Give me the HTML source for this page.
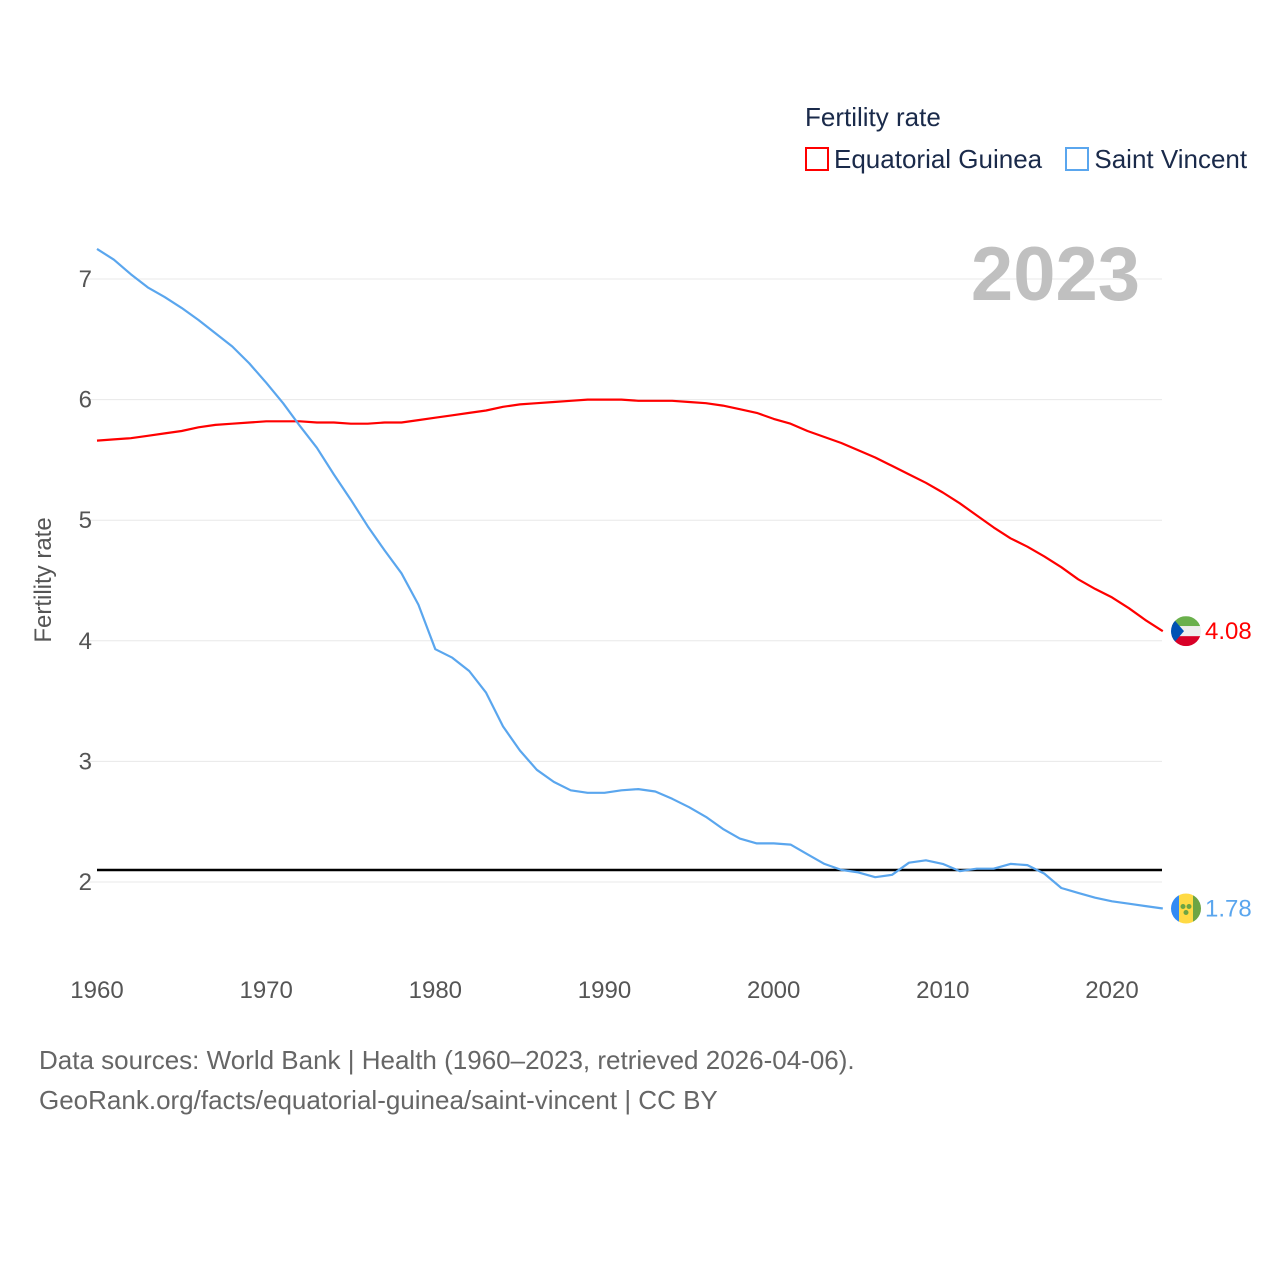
<!DOCTYPE html>
<html><head><meta charset="utf-8"><style>
body{margin:0;background:#fff;font-family:"Liberation Sans",sans-serif}
#wrap{position:relative;width:1280px;height:1280px}
</style></head><body>
<div id="wrap">
<svg id="chart" width="1280" height="1280" style="position:absolute;left:0;top:0;font-family:'Liberation Sans',sans-serif"></svg>
</div>
<script>
const years=[];for(let y=1960;y<=2023;y++)years.push(y);
const saintVincent=[7.25,7.16,7.04,6.93,6.85,6.76,6.66,6.55,6.44,6.30,6.14,5.97,5.78,5.60,5.38,5.17,4.95,4.75,4.56,4.30,3.93,3.86,3.75,3.57,3.29,3.09,2.93,2.83,2.76,2.74,2.74,2.76,2.77,2.75,2.69,2.62,2.54,2.44,2.36,2.32,2.32,2.31,2.23,2.15,2.10,2.08,2.04,2.06,2.16,2.18,2.15,2.09,2.11,2.11,2.15,2.14,2.07,1.95,1.91,1.87,1.84,1.82,1.80,1.78];
const eqGuinea=[5.66,5.67,5.68,5.70,5.72,5.74,5.77,5.79,5.80,5.81,5.82,5.82,5.82,5.81,5.81,5.80,5.80,5.81,5.81,5.83,5.85,5.87,5.89,5.91,5.94,5.96,5.97,5.98,5.99,6.00,6.00,6.00,5.99,5.99,5.99,5.98,5.97,5.95,5.92,5.89,5.84,5.80,5.74,5.69,5.64,5.58,5.52,5.45,5.38,5.31,5.23,5.14,5.04,4.94,4.85,4.78,4.70,4.61,4.51,4.43,4.36,4.27,4.17,4.08];
const yTicks=[2,3,4,5,6,7];
const xTicks=[1960,1970,1980,1990,2000,2010,2020];
const replacement=2.1;
const NS='http://www.w3.org/2000/svg';
const svg=document.getElementById('chart');
const X=y=>97+(y-1960)*(1015/60);
const Y=v=>882-(v-2)*120.6;
function mk(t,a,txt){const e=document.createElementNS(NS,t);for(const k in a)e.setAttribute(k,a[k]);if(txt!=null)e.textContent=txt;svg.appendChild(e);return e;}
yTicks.forEach(v=>{
 const g=mk('line',{x1:85,x2:1162,y1:Y(v),y2:Y(v),stroke:'#e8e8e8','stroke-width':1});
 
 
 const t=mk('text',{x:92,y:Y(v)+8,'text-anchor':'end','font-size':24,fill:'#555'},v);
 
 
});
xTicks.forEach(v=>{
 const t=mk('text',{x:X(v),y:998,'text-anchor':'middle','font-size':24,fill:'#555'},v);
 
 
});
const yt=mk('text',{x:0,y:0,transform:'translate(51,580) rotate(-90)','text-anchor':'middle','font-size':24,fill:'#555'},'Fertility rate');


const yr=mk('text',{x:1140,y:300,'text-anchor':'end','font-size':76,'font-weight':'bold',fill:'#c0c0c0'},'2023');


const rl=mk('line',{x1:97,x2:1162,y1:Y(replacement),y2:Y(replacement),stroke:'#000','stroke-width':2.5});


function line(data,color,name){
 const d=data.map((v,i)=>(i?'L':'M')+X(years[i]).toFixed(1)+','+Y(v).toFixed(1)).join('');
 const p=mk('path',{d:d,fill:'none',stroke:color,'stroke-width':2.2,'stroke-linejoin':'round'});
 
 
}
line(eqGuinea,'#ff0000','line-equatorial-guinea');
line(saintVincent,'#5aa6ee','line-saint-vincent');
const eqY=Y(eqGuinea[eqGuinea.length-1]), svY=Y(saintVincent[saintVincent.length-1]);
const c1=mk('clipPath',{id:'cf1'});c1.innerHTML='<circle cx="1186" cy="'+eqY+'" r="15"/>';
const f1=mk('g',{'clip-path':'url(#cf1)'});


f1.innerHTML=`<rect x="1171" y="${eqY-15}" width="30" height="10" fill="#6ab04c"/><rect x="1171" y="${eqY-5}" width="30" height="10" fill="#eee"/><rect x="1171" y="${eqY+5}" width="30" height="10" fill="#d80027"/><polygon points="1171,${eqY-15} 1184,${eqY} 1171,${eqY+15}" fill="#0052b4"/>`;
const l1=mk('text',{x:1205,y:eqY+8,'font-size':24,fill:'#ff0000'},eqGuinea[eqGuinea.length-1].toFixed(2));


const c2=mk('clipPath',{id:'cf2'});c2.innerHTML='<circle cx="1186" cy="'+svY+'" r="15"/>';
const f2=mk('g',{'clip-path':'url(#cf2)'});


f2.innerHTML=`<rect x="1171" y="${svY-15}" width="8" height="30" fill="#338af3"/><rect x="1179" y="${svY-15}" width="14" height="30" fill="#ffda44"/><rect x="1193" y="${svY-15}" width="8" height="30" fill="#6da544"/><circle cx="1183" cy="${svY-2}" r="2.5" fill="#6da544"/><circle cx="1189" cy="${svY-2}" r="2.5" fill="#6da544"/><circle cx="1186" cy="${svY+4}" r="2.5" fill="#6da544"/>`;
const l2=mk('text',{x:1205,y:svY+8,'font-size':24,fill:'#5aa6ee'},saintVincent[saintVincent.length-1].toFixed(2));


</script>
<div style="position:absolute;left:805px;top:102px;color:#1a2a4a;font-size:26px">
 <div>Fertility rate</div>
 <div style="margin-top:11px;white-space:nowrap">
  <span><span style="display:inline-block;width:24px;height:24px;border:2px solid #ff0000;vertical-align:-3px;margin-right:5px;box-sizing:border-box"></span>Equatorial Guinea</span>
  <span style="margin-left:16px"><span style="display:inline-block;width:24px;height:24px;border:2px solid #5aa6ee;vertical-align:-3px;margin-right:5px;box-sizing:border-box"></span>Saint Vincent</span>
 </div>
</div>
<div style="position:absolute;left:39px;top:1040px;color:#666;font-size:26px;line-height:40px">
 Data sources: World Bank | Health (1960–2023, retrieved 2026-04-06).<br>GeoRank.org/facts/equatorial-guinea/saint-vincent | CC BY
</div>
</body></html>
